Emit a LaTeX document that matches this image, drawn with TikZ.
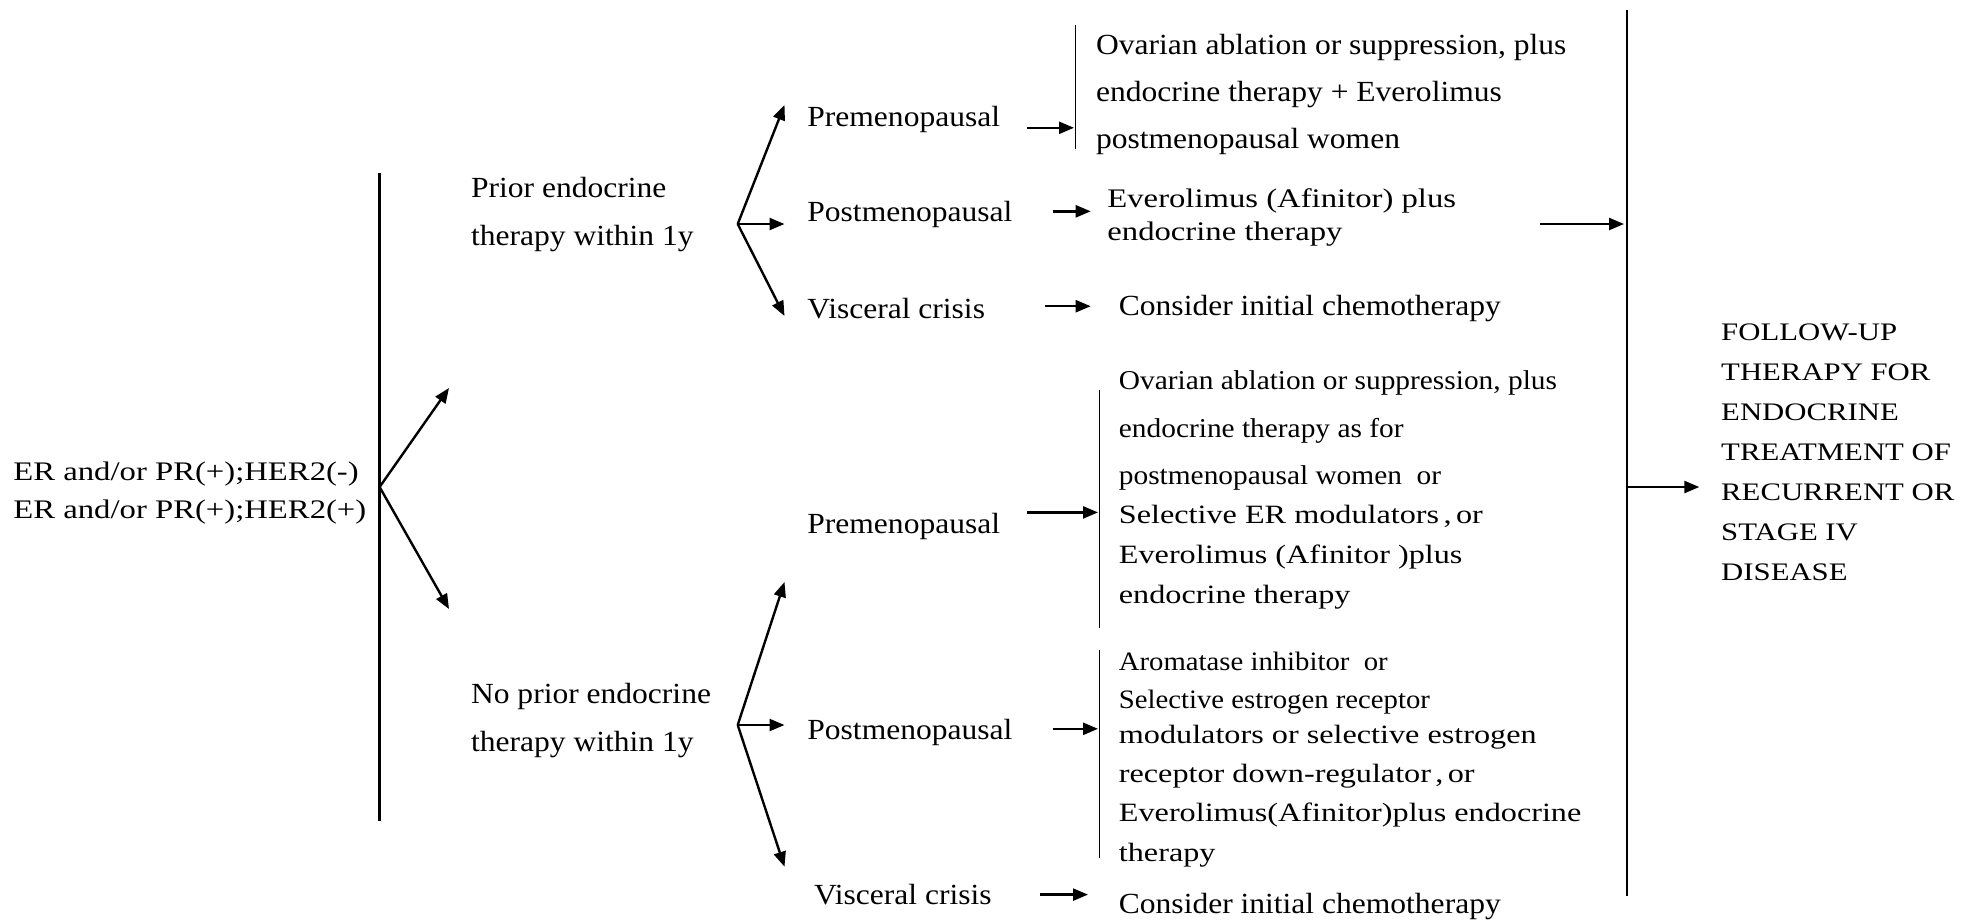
\documentclass[tikz,border=0pt]{standalone}
\usepackage{fontspec}
\setmainfont{Liberation Serif}
\newfontfamily\fa[FakeStretch=1.08]{Liberation Serif}
\newfontfamily\fb[FakeStretch=1.22]{Liberation Serif}
\usetikzlibrary{arrows.meta}
\begin{document}
\begin{tikzpicture}[x=0.5pt,y=-0.5pt,
  txt/.style={anchor=west, inner sep=0pt, align=left},
  tleft/.style={txt, font=\fb\fontsize{13.4pt}{18.8pt}\selectfont},
  tmid/.style={txt, font=\fa\fontsize{14.6pt}{24pt}\selectfont},
  tovar/.style={txt, font=\fa\fontsize{14.6pt}{23.7pt}\selectfont},
  tevero/.style={txt, font=\fb\fontsize{13.4pt}{16.5pt}\selectfont},
  tsmall/.style={txt, font=\fa\fontsize{13.6pt}{23.7pt}\selectfont},
  twide/.style={txt, font=\fb\fontsize{13.2pt}{20pt}\selectfont},
  tarom/.style={txt, font=\fa\fontsize{13.3pt}{19pt}\selectfont},
  twide2/.style={txt, font=\fb\fontsize{13.2pt}{19.6pt}\selectfont},
  tfollow/.style={txt, font=\fb\fontsize{12.6pt}{20pt}\selectfont},
  arr/.style={-{Triangle[length=7.5pt,width=6pt]}, line width=1.2pt},
  bigbar/.style={line width=1.2pt},
  thinbar/.style={line width=0.8pt}]
\useasboundingbox (0,0) rectangle (1984,923);

% left column
\node[tleft] (er) at (13,493) {ER and/or PR(+);HER2(-)\\ER and/or PR(+);HER2(+)};
\coordinate (Ltop) at (379.6,173);
\coordinate (Lbot) at (379.6,821);
\draw[bigbar] (Ltop) -- (Lbot);
\coordinate (b0) at (379.6,487);
\coordinate (up0) at (449,388);
\coordinate (dn0) at (449,609);
\draw[arr] (b0) -- (up0);
\draw[arr] (b0) -- (dn0);

% upper branch
\node[tmid] (prior) at (470.7,215) {Prior endocrine\\therapy within 1y};
\coordinate (f1) at (737.7,224);
\coordinate (f1u) at (784.5,105);
\coordinate (f1m) at (784.5,224);
\coordinate (f1d) at (784.5,316);
\draw[arr] (f1) -- (f1u);
\draw[arr] (f1) -- (f1m);
\draw[arr] (f1) -- (f1d);
\node[tmid] (pre1) at (807,119) {Premenopausal};
\node[tmid] (post1) at (807,214) {Postmenopausal};
\node[tmid] (visc1) at (807,309) {Visceral crisis};

\coordinate (a1s) at (1027.4,127.8);
\coordinate (a1e) at (1074,127.8);
\draw[arr] (a1s) -- (a1e);
\coordinate (bar1t) at (1075.5,25.3);
\coordinate (bar1b) at (1075.5,149.3);
\draw[thinbar] (bar1t) -- (bar1b);
\node[tovar] (ova1) at (1095.7,94.5) {Ovarian ablation or suppression, plus\\endocrine therapy + Everolimus\\postmenopausal women};

\coordinate (a2s) at (1052.7,211.3);
\coordinate (a2e) at (1090.7,211.3);
\draw[arr] (a2s) -- (a2e);
\node[tevero] (eve1) at (1107,217) {Everolimus (Afinitor) plus\\endocrine therapy};

\coordinate (a3s) at (1045,306.2);
\coordinate (a3e) at (1090.7,306.2);
\draw[arr] (a3s) -- (a3e);
\node[tmid] (cons1) at (1118.5,309) {Consider initial chemotherapy};

% right column
\coordinate (a4s) at (1539.9,224);
\coordinate (a4e) at (1624,224);
\draw[arr] (a4s) -- (a4e);
\coordinate (Rtop) at (1627.2,10);
\coordinate (Rbot) at (1627.2,895.8);
\draw[bigbar] (Rtop) -- (Rbot);
\coordinate (Rmid) at (1627.2,487);
\coordinate (Rout) at (1699.3,487);
\draw[arr] (Rmid) -- (Rout);
\node[tfollow] (follow) at (1720.8,452.5) {FOLLOW-UP\\THERAPY FOR\\ENDOCRINE\\TREATMENT OF\\RECURRENT OR\\STAGE IV\\DISEASE};

% lower branch
\node[tmid] (noprior) at (470.7,720) {No prior endocrine\\therapy within 1y};
\coordinate (f2) at (737.7,725);
\coordinate (f2u) at (784.5,582);
\coordinate (f2m) at (784.5,725);
\coordinate (f2d) at (784.5,866.7);
\draw[arr] (f2) -- (f2u);
\draw[arr] (f2) -- (f2m);
\draw[arr] (f2) -- (f2d);
\node[tmid] (pre2) at (807,526.5) {Premenopausal};
\node[tmid] (post2) at (807,732.5) {Postmenopausal};
\node[tmid] (visc2) at (813.6,894.5) {Visceral crisis};

\coordinate (a5s) at (1027.4,512.4);
\coordinate (a5e) at (1098,512.4);
\draw[arr] (a5s) -- (a5e);
\coordinate (bar2t) at (1099.6,389.7);
\coordinate (bar2b) at (1099.6,627.6);
\draw[thinbar] (bar2t) -- (bar2b);
\node[tsmall] (ova2) at (1118.5,430.5) {Ovarian ablation or suppression, plus\\endocrine therapy as for\\postmenopausal women~ or};
\node[twide] (sel2) at (1118.5,557) {Selective ER modulators\,,\,or\\Everolimus (Afinitor )plus\\endocrine therapy};

\coordinate (a6s) at (1052.7,728.8);
\coordinate (a6e) at (1098,728.8);
\draw[arr] (a6s) -- (a6e);
\coordinate (bar3t) at (1099.6,650.4);
\coordinate (bar3b) at (1099.6,857.9);
\draw[thinbar] (bar3t) -- (bar3b);
\node[tarom] (arom) at (1118.5,683.5) {Aromatase inhibitor~ or\\Selective estrogen receptor};
\node[twide2] (mod) at (1118.5,796) {modulators or selective estrogen\\receptor down-regulator\,,\,or\\Everolimus(Afinitor)plus endocrine\\therapy};

\coordinate (a7s) at (1040,894.6);
\coordinate (a7e) at (1088,894.6);
\draw[arr] (a7s) -- (a7e);
\node[tmid] (cons2) at (1118.5,906.5) {Consider initial chemotherapy};
\end{tikzpicture}
\end{document}
